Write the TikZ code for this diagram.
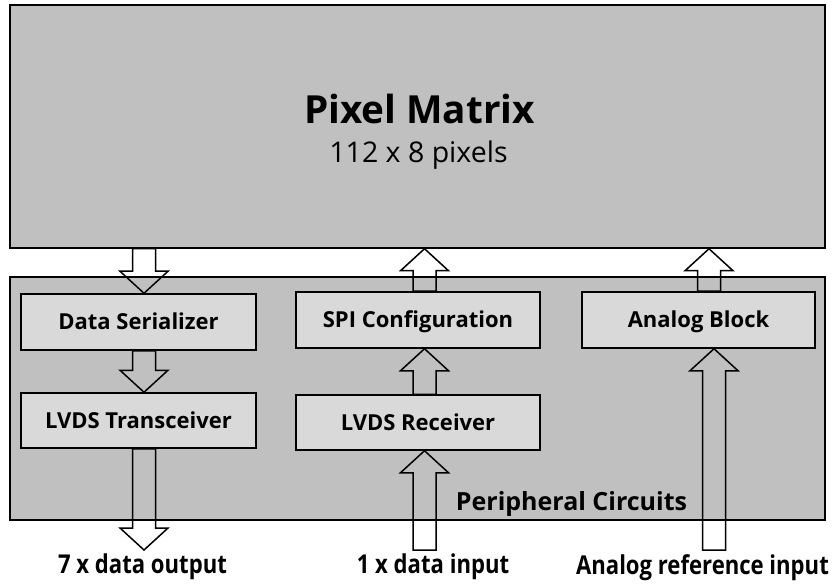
\documentclass[tikz,border=0pt]{standalone}
\usepackage{fontspec}
\setmainfont{Open Sans}
\usetikzlibrary{calc}
\definecolor{outergray}{RGB}{192,192,192}
\definecolor{innergray}{RGB}{217,217,217}
\tikzset{
  bigbox/.style={draw=black, line width=1.5pt, fill=outergray, minimum width=815pt, minimum height=243pt, inner sep=0pt},
  smallbox/.style={draw=black, line width=1.5pt, fill=innergray, minimum width=235pt, minimum height=56pt, inner sep=0pt, text height=15.5pt, text depth=0pt, font=\bfseries\fontsize{22}{26}\selectfont},
  blk/.style={draw=black, line width=1.5pt, line join=miter},
  outlabel/.style={font=\bfseries\fontsize{26}{30}\selectfont, inner sep=0pt, xscale=0.85, text height=19pt, text depth=0pt}
}
\newcommand\barrow[4]{%
  \draw[blk] let \p1=(#2), \p2=(#3) in
    (#1pt-11.5pt,\y1) -- (#1pt-11.5pt,{\y2+(#4)*22pt}) -- (#1pt-24pt,{\y2+(#4)*22pt})
    -- (#1pt,\y2) -- (#1pt+24pt,{\y2+(#4)*22pt}) -- (#1pt+11.5pt,{\y2+(#4)*22pt})
    -- (#1pt+11.5pt,\y1) -- cycle;}
\begin{document}
\begin{tikzpicture}[x=1pt,y=-1pt]
\useasboundingbox (0,0) rectangle (835,585);
\node[bigbox] (pm) at (417.5,126.5) {};
\node[inner sep=0pt, font=\bfseries\fontsize{38.7}{44}\selectfont] (pmt) at (419.5,108.5) {Pixel Matrix};
\node[inner sep=0pt, font=\fontsize{28.5}{32}\selectfont] (pms) at (418.5,155) {112 x 8 pixels};
\node[bigbox] (per) at (417.5,398.5) {};
\node[inner sep=0pt, text height=16pt, text depth=0pt, font=\bfseries\fontsize{25}{29}\selectfont] (pert) at (571.5,502.5) {Peripheral Circuits};
\node[smallbox] (ser) at (138.5,322) {Data Serializer};
\node[smallbox, minimum height=55pt] (trx) at (138.5,420.5) {LVDS Transceiver};
\node[smallbox, minimum width=244pt] (spi) at (418,320) {SPI Configuration};
\node[smallbox, minimum width=244pt, minimum height=55pt] (rcv) at (418,422.5) {LVDS Receiver};
\node[smallbox, minimum width=233pt] (ana) at (698.5,320) {Analog Block};
\coordinate (out1) at (144,550);
\coordinate (in1) at (424.5,550);
\coordinate (in2) at (714,550);
\barrow{144}{pm.south}{ser.north}{1}
\barrow{144}{ser.south}{trx.north}{1}
\barrow{424.5}{spi.north}{pm.south}{-1}
\barrow{424.5}{rcv.north}{spi.south}{-1}
\barrow{709}{ana.north}{pm.south}{-1}
\barrow{144}{trx.south}{out1}{1}
\barrow{424.5}{in1}{rcv.south}{-1}
\barrow{714}{in2}{ana.south}{-1}
\node[outlabel] (l1) at (142.5,564) {7 x data output};
\node[outlabel] (l2) at (433,564) {1 x data input};
\node[outlabel] (l3) at (702.5,565) {Analog reference input};
\end{tikzpicture}
\end{document}
